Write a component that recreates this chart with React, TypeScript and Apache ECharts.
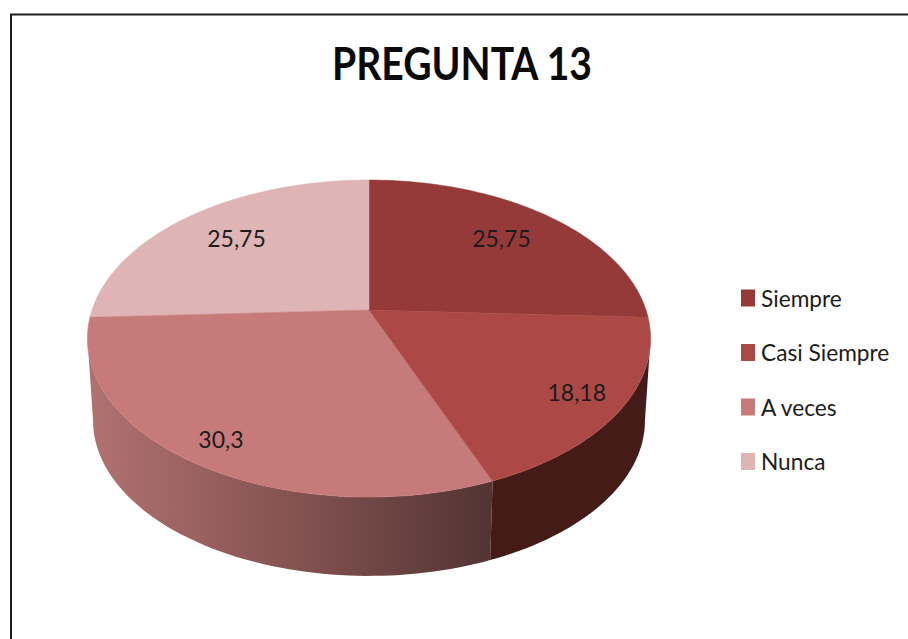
import React, { useEffect, useRef } from "react";
import * as echarts from "echarts";

const categories = ["Siempre", "Casi Siempre", "A veces", "Nunca"];
const values = [25.75, 18.18, 30.3, 25.75];
const topColors = ["#953A38", "#AC4845", "#C67A79", "#DEB4B4"];
const titleText = "PREGUNTA 13";

const FONT = "Lato, 'Noto Sans', sans-serif";
const TEXT = "#1c1c1c";

// perspective projection of the unit disc onto the page
const CX = 369;
const APEX_Y = 310;
const K = 0.18;
const B = 153.4;
const A = 277;
const ELLIPSE_Y = 338;
const DEPTH_Y = 420;
const BOTTOM_SCALE = 0.98;
const TOTAL = values.reduce((s, v) => s + v, 0);

const project = (deg: number, r = 1): [number, number] => {
  const t = (deg * Math.PI) / 180;
  const u = Math.sin(t) * r;
  const v = Math.cos(t) * r;
  const d = 1 + K * v;
  return [CX + (A * u) / d, APEX_Y - (B * v) / d];
};
const lower = ([x, y]: [number, number]): [number, number] => [
  CX + BOTTOM_SCALE * (x - CX),
  DEPTH_Y + BOTTOM_SCALE * (y - ELLIPSE_Y),
];
const arc = (a: number, b: number): [number, number][] => {
  const n = Math.max(2, Math.ceil(Math.abs(b - a) / 1.5));
  const pts: [number, number][] = [];
  for (let i = 0; i <= n; i++) pts.push(project(a + ((b - a) * i) / n));
  return pts;
};

const starts: number[] = [];
values.reduce((acc, v, i) => {
  starts[i] = (acc / TOTAL) * 360;
  return acc + v;
}, 0);

const sideFill = (i: number) =>
  i === 2
    ? new echarts.graphic.LinearGradient(0, 0, 1, 0, [
        { offset: 0, color: "#B27272" },
        { offset: 0.5, color: "#855352" },
        { offset: 1, color: "#523432" },
      ])
    : "#451B18";

const LABEL_R = [0.72, 0.84, 0.87, 0.72];
const LABEL_DY = [-2, 0, 0, -2];

const makeRender = (i: number) => (_params: any, api: any) => {
  const v = api.value(0) as number;
  const start = starts[i];
  const end = start + (v / TOTAL) * 360;
  const children: any[] = [];
  const sFrom = Math.max(start, 100.2);
  const sTo = Math.min(end, 259.8);
  if (sTo > sFrom) {
    const top = arc(sFrom, sTo);
    const bottom = top.map(lower).reverse();
    children.push({
      type: "polygon",
      shape: { points: [...top, ...bottom] },
      style: { fill: sideFill(i), stroke: "none" },
    });
  }
  children.push({
    type: "polygon",
    shape: { points: [[CX, APEX_Y], ...arc(start, end)] },
    style: { fill: topColors[i], stroke: topColors[i], lineWidth: 0.5 },
  });
  const [lx, ly] = project((start + end) / 2, LABEL_R[i]);
  children.push({
    type: "text",
    z2: 100,
    style: {
      x: lx + (i === 2 ? 2 : 0),
      y: ly + LABEL_DY[i],
      text: String(v).replace(".", ","),
      fill: TEXT,
      font: `23px ${FONT}`,
      align: "center",
      verticalAlign: "middle",
    },
  });
  return { type: "group", children };
};

export default function App() {
  const ref = useRef<HTMLDivElement>(null);
  useEffect(() => {
    const chart = echarts.init(ref.current!, undefined, { renderer: "svg" });
    // sides of the front slices are drawn before the top faces of the others
    const order = [0, 3, 2, 1];
    chart.setOption({
      animation: false,
      backgroundColor: "#ffffff",
      legend: {
        orient: "vertical",
        left: 741,
        top: 286,
        padding: 0,
        itemWidth: 14,
        itemHeight: 17,
        itemGap: 30.5,
        icon: "rect",
        data: categories,
        selectedMode: false,
        textStyle: {
          fontFamily: FONT,
          fontSize: 22.7,
          lineHeight: 23,
          color: TEXT,
          padding: [0, 0, 1, 1],
        },
      },
      graphic: [
        {
          type: "polyline",
          silent: true,
          shape: { points: [[11, 639], [11, 14.5], [908, 14.5]] },
          style: { stroke: "#1c1c1c", lineWidth: 2, fill: "none" },
        },
        {
          type: "text",
          silent: true,
          x: 462,
          y: 62,
          scaleX: 0.85,
          scaleY: 1,
          style: {
            text: titleText,
            font: `bold 46px ${FONT}`,
            fill: "#0a0a0a",
            align: "center",
            verticalAlign: "middle",
          },
        },
      ],
      series: order.map((i) => ({
        type: "custom",
        name: categories[i],
        coordinateSystem: "none",
        data: [[values[i]]],
        itemStyle: { color: topColors[i] },
        renderItem: makeRender(i),
        silent: true,
      })),
    });
    return () => chart.dispose();
  }, []);
  return (
    <div
      ref={ref}
      style={{ position: "fixed", left: 0, top: 0, width: 908, height: 639 }}
    />
  );
}
